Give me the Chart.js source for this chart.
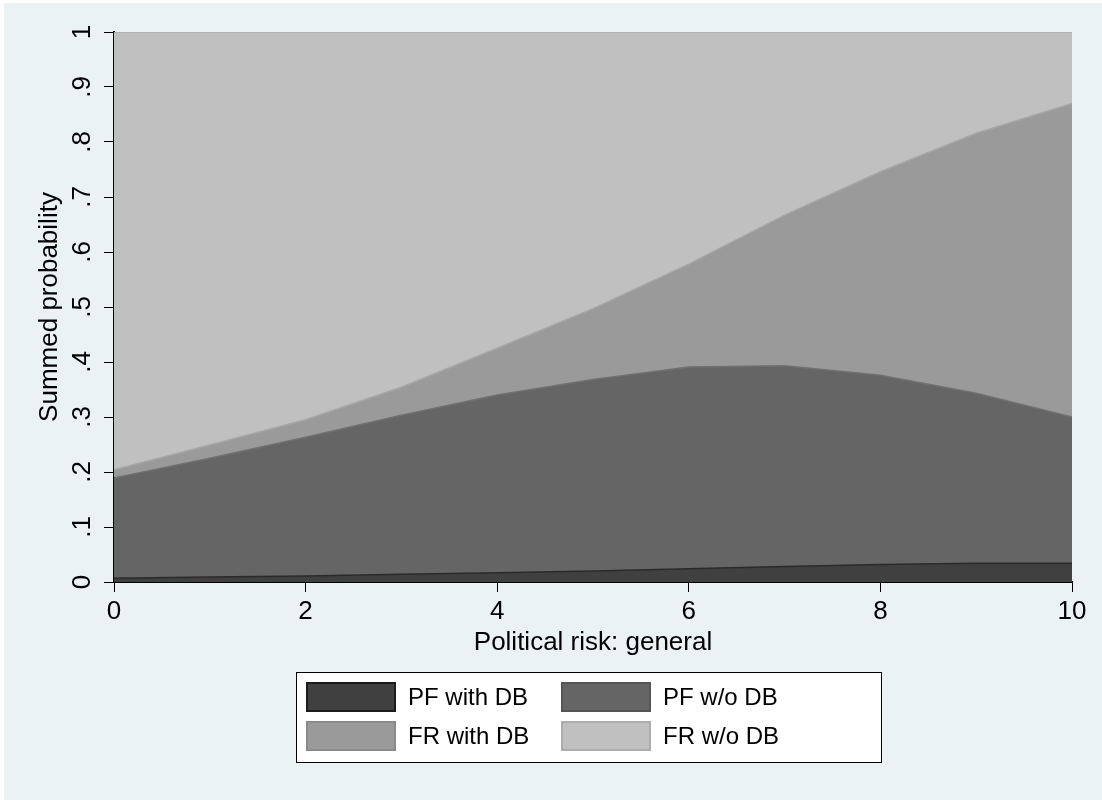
<!DOCTYPE html>
<html>
<head>
<meta charset="utf-8">
<script src="https://cdn.jsdelivr.net/npm/chart.js@4/dist/chart.umd.min.js"></script>
<style>
  body { margin: 0; background: #fff; }
  canvas { display: block; }
</style>
</head>
<body>
<canvas id="myChart" width="1102" height="800"></canvas>
<script>
// political risk (x) and predicted probabilities per outcome
const riesgo = [0, 1, 2, 3, 4, 5, 6, 7, 8, 9, 10]
const pfConDB = [0.007, 0.009, 0.011, 0.014, 0.017, 0.020, 0.024, 0.028, 0.032, 0.034, 0.034]
const pfSinDB = [0.182, 0.216, 0.252, 0.289, 0.323, 0.348, 0.367, 0.365, 0.344, 0.309, 0.266]
const frConDB = [0.015, 0.024, 0.032, 0.051, 0.085, 0.129, 0.187, 0.274, 0.370, 0.473, 0.570]
const frSinDB = [0.796, 0.751, 0.705, 0.646, 0.575, 0.503, 0.422, 0.333, 0.254, 0.184, 0.130]

const nombres = ["PF with DB", "PF w/o DB", "FR with DB", "FR w/o DB"]
const rellenos = ["#404040", "#656565", "#9a9a9a", "#c0c0c0"]
const bordes = ["#2a2a2a", "#707070", "#a6a6a6", "#acacac"]
const bordesLeyenda = ["#1c1c1c", "#555555", "#8a8a8a", "#adadad"]

const xTicks = [0, 2, 4, 6, 8, 10]
const yTicks = [0, 0.1, 0.2, 0.3, 0.4, 0.5, 0.6, 0.7, 0.8, 0.9, 1]

Chart.defaults.font.family = "'Liberation Sans', Arial, sans-serif"
Chart.defaults.color = "#000"

function puntos(valores) {
    return riesgo.map((x, i) => ({ x: x, y: valores[i] }))
}

function etiquetaY(v) {
    if (v === 0) return "0"
    if (v === 1) return "1"
    return v.toFixed(1).replace(/^0/, "")
}

const series = [pfConDB, pfSinDB, frConDB, frSinDB]
const datasets = series.map((s, i) => ({
    label: nombres[i],
    data: puntos(s),
    backgroundColor: rellenos[i],
    borderColor: bordes[i],
    borderWidth: 1.5,
    pointRadius: 0,
    tension: 0,
    fill: i === 0 ? "origin" : "-1"
}))

// fondo estilo stata
const fondo = {
    id: "fondo",
    beforeDraw(chart) {
        const ctx = chart.ctx
        ctx.save()
        ctx.fillStyle = "#ffffff"
        ctx.fillRect(0, 0, chart.width, chart.height)
        ctx.fillStyle = "#eaf2f3"
        ctx.fillRect(4, 3, chart.width - 4, chart.height - 3)
        ctx.restore()
    }
}

// leyenda en caja, dos columnas
const leyenda = {
    id: "leyenda",
    afterDraw(chart) {
        const ctx = chart.ctx
        const caja = { x: 296, y: 672, w: 585, h: 90 }
        ctx.save()
        ctx.fillStyle = "#ffffff"
        ctx.fillRect(caja.x, caja.y, caja.w, caja.h)
        ctx.strokeStyle = "#000"
        ctx.lineWidth = 1
        ctx.strokeRect(caja.x + 0.5, caja.y + 0.5, caja.w, caja.h)
        const colX = [307, 562]
        const filaY = [683, 722]
        ctx.font = "24px 'Liberation Sans', Arial, sans-serif"
        ctx.textBaseline = "middle"
        ctx.textAlign = "left"
        for (let i = 0; i < nombres.length; i++) {
            const cx = colX[i % 2]
            const cy = filaY[Math.floor(i / 2)]
            ctx.fillStyle = rellenos[i]
            ctx.fillRect(cx, cy, 88, 28)
            ctx.strokeStyle = bordesLeyenda[i]
            ctx.lineWidth = 2
            ctx.strokeRect(cx, cy, 88, 28)
            ctx.fillStyle = "#000"
            ctx.fillText(nombres[i], cx + 101, cy + 15)
        }
        ctx.restore()
    }
}

const config = {
    type: "line",
    data: { datasets: datasets },
    options: {
        responsive: false,
        animation: false,
        devicePixelRatio: 1,
        layout: { padding: { top: 32, right: 30, left: 0, bottom: 140 } },
        plugins: {
            legend: { display: false },
            tooltip: { enabled: false }
        },
        scales: {
            x: {
                type: "linear",
                min: 0,
                max: 10,
                afterFit(s) { s.height = 78 },
                afterBuildTicks(s) { s.ticks = xTicks.map(v => ({ value: v })) },
                ticks: { font: { size: 26 }, padding: 4, color: "#000", maxRotation: 0 },
                grid: { drawOnChartArea: false, tickLength: 10, color: "#000", lineWidth: 1 },
                border: { display: true, color: "#000", width: 2 },
                title: {
                    display: true,
                    text: "Political risk: general",
                    font: { size: 26 },
                    color: "#000",
                    padding: { top: 0, bottom: 2 }
                }
            },
            y: {
                stacked: true,
                min: 0,
                max: 1,
                afterFit(s) { s.width = 114 },
                afterBuildTicks(s) { s.ticks = yTicks.map(v => ({ value: v })) },
                ticks: {
                    font: { size: 26 },
                    color: "#000",
                    minRotation: 90,
                    maxRotation: 90,
                    crossAlign: "center",
                    autoSkip: false,
                    padding: 10,
                    callback: v => etiquetaY(v)
                },
                grid: { drawOnChartArea: false, tickLength: 10, color: "#000", lineWidth: 1 },
                border: { display: true, color: "#000", width: 2 },
                title: {
                    display: true,
                    text: "Summed probability",
                    font: { size: 26 },
                    color: "#000",
                    padding: { top: 34, bottom: 0 }
                }
            }
        }
    },
    plugins: [fondo, leyenda]
}

new Chart(document.getElementById("myChart"), config)
</script>
</body>
</html>
